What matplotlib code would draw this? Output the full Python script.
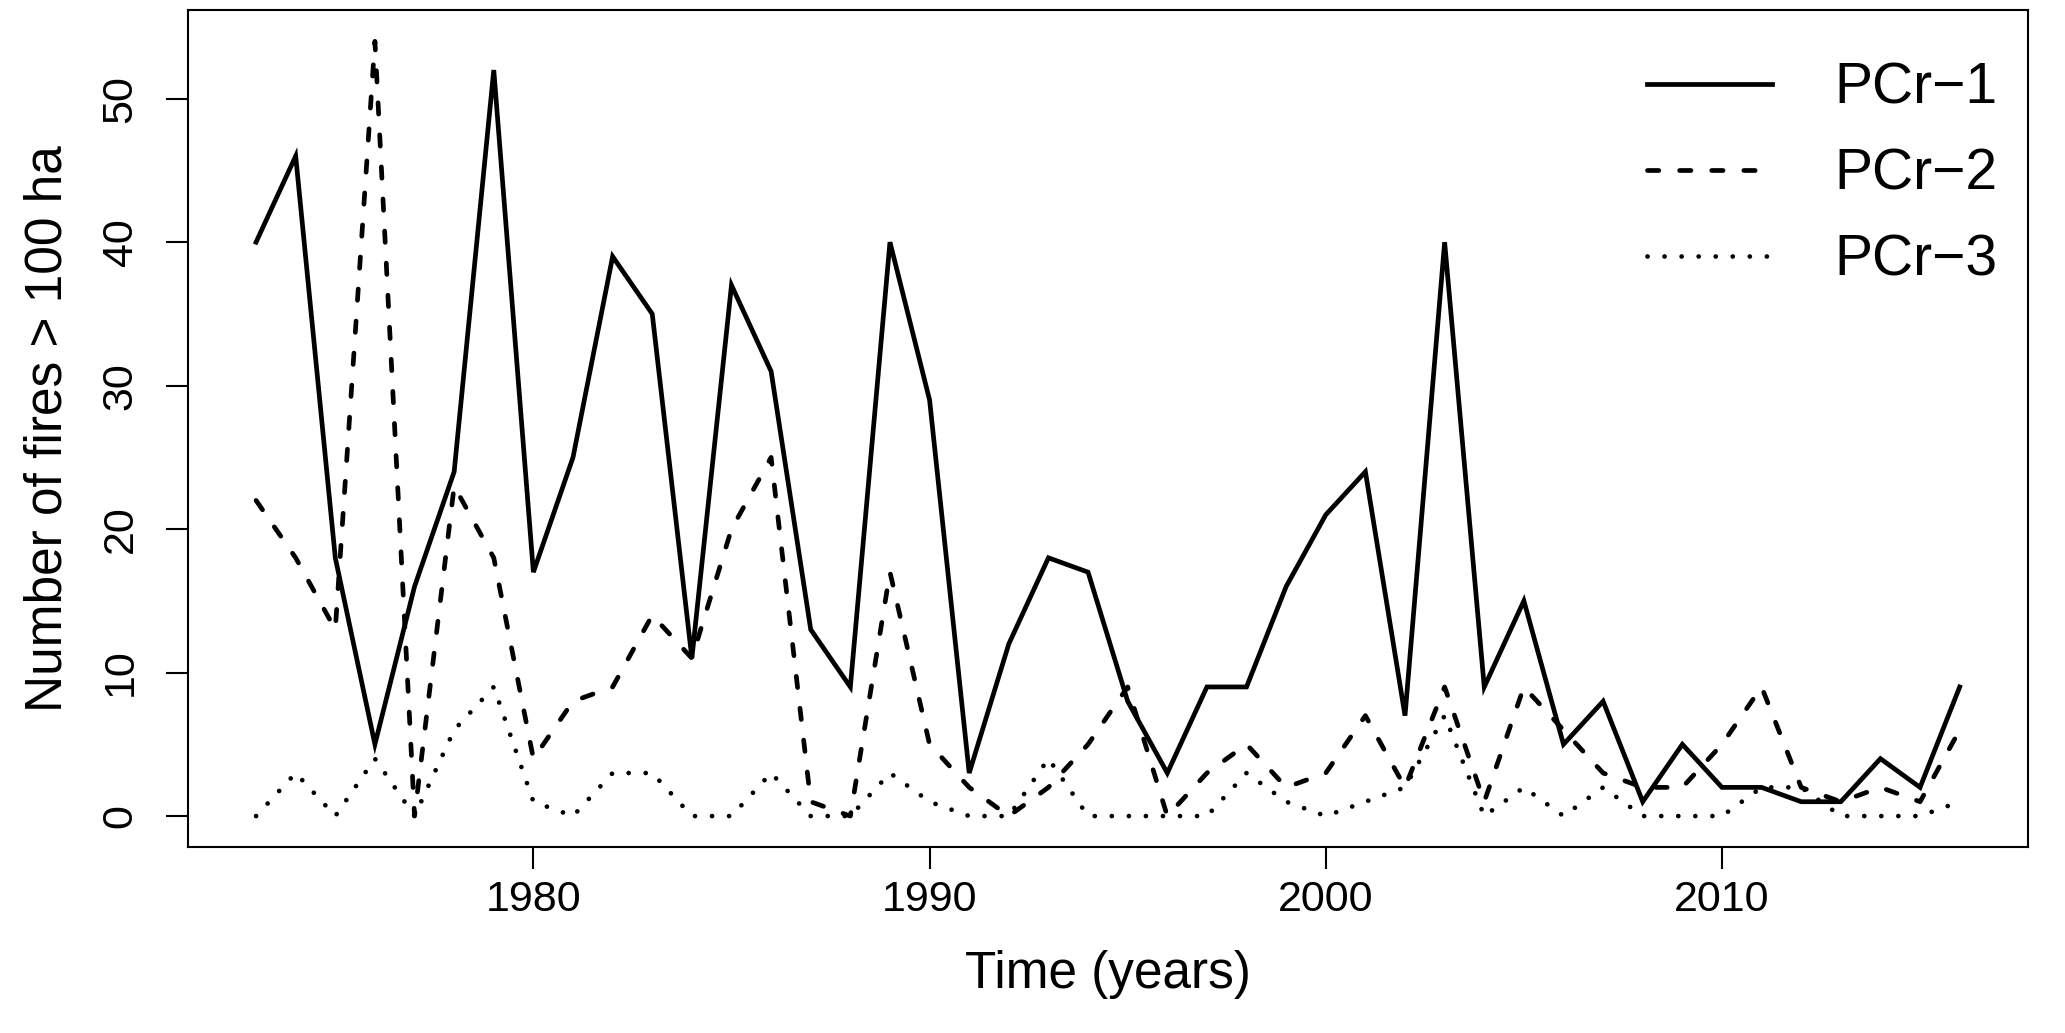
import matplotlib
matplotlib.use('Agg')
import matplotlib.pyplot as plt

plt.rcParams['font.family'] = ['Liberation Sans', 'DejaVu Sans']

years = list(range(1973, 2017))

pcr1 = [40, 46, 18, 5, 16, 24, 52, 17, 25, 39, 35, 11, 37, 31, 13, 9, 40, 29,
        3, 12, 18, 17, 8, 3, 9, 9, 16, 21, 24, 7, 40, 9, 15, 5, 8, 1, 5, 2,
        2, 1, 1, 4, 2, 9]
pcr2 = [22, 18, 13, 54, 0, 23, 18, 4, 8, 9, 14, 11, 20, 25, 1, 0, 17, 5,
        2, 0, 2, 5, 9, 0, 3, 5, 2, 3, 7, 2, 9, 1, 9, 6, 3, 2, 2, 5,
        9, 2, 1, 2, 1, 6]
pcr3 = [0, 3, 0, 4, 0, 6, 9, 1, 0, 3, 3, 0, 0, 3, 0, 0, 3, 1,
        0, 0, 4, 0, 0, 0, 0, 3, 1, 0, 1, 2, 7, 0, 2, 0, 2, 0, 0, 0,
        2, 2, 0, 0, 0, 1]

labels = ['PCr\u22121', 'PCr\u22122', 'PCr\u22123']

fig = plt.figure(figsize=(20.65, 10.33), dpi=100)
ax = fig.add_axes([0.091, 0.180, 0.891, 0.810])

lw = 3.4
ax.plot(years, pcr1, color='black', lw=lw, solid_joinstyle='miter', label=labels[0])
ax.plot(years, pcr2, color='black', lw=lw, dashes=(2.4, 4.4),
        dash_capstyle='round', label=labels[1])
ax.plot(years, pcr3, color='black', lw=lw, dashes=(0.01, 3.6),
        dash_capstyle='round', label=labels[2])

# R-style 4% padding
ax.set_xlim(1973 - 0.04 * 43, 2016 + 0.04 * 43)
ax.set_ylim(-0.04 * 54, 54 * 1.04)
ax.set_xticks([1980, 1990, 2000, 2010])
ax.set_yticks([0, 10, 20, 30, 40, 50])

ax.tick_params(direction='out', length=16, width=1.5, labelsize=31)
ax.tick_params(axis='x', pad=8)
ax.tick_params(axis='y', pad=18)
for lab in ax.get_yticklabels():
    lab.set_rotation(90)
    lab.set_va('center')
for s in ax.spines.values():
    s.set_linewidth(1.5)

ax.set_xlabel('Time (years)', fontsize=37, labelpad=21)
ax.set_ylabel('Number of fires > 100 ha', fontsize=37, labelpad=20)

leg = ax.legend(loc='upper right', bbox_to_anchor=(0.9837, 0.9386),
                frameon=False, fontsize=41,
                handlelength=2.2, handletextpad=1.1, labelspacing=0.56,
                borderpad=0, borderaxespad=0)

fig.savefig('out.png', dpi=100)
